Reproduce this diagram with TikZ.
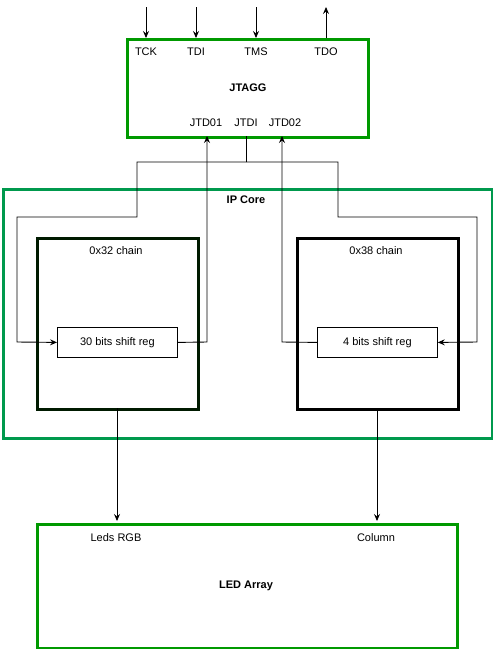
\documentclass[tikz,border=0pt]{standalone}
\usepackage{fontspec}
\setmainfont{Liberation Sans}
\usetikzlibrary{arrows.meta}
\definecolor{jgreen}{HTML}{009900}
\definecolor{ipgreen}{HTML}{00994D}
\definecolor{darkg}{HTML}{001A00}
\begin{document}
\begin{tikzpicture}[x=1pt,y=-1pt,
  every node/.style={font=\fontsize{11}{13}\selectfont, inner sep=0pt},
  bigbox/.style={draw, line width=3pt},
  regbox/.style={draw, line width=0.8pt, fill=white},
  wire/.style={line width=0.9pt},
  arr/.style={wire, -{Stealth[length=7pt,width=6pt,inset=2.5pt]}},
  lbl/.style={anchor=center},
  bold/.style={font=\fontsize{11}{13}\selectfont\bfseries}]
\useasboundingbox (0,0) rectangle (493,649);
% boxes
\node[bigbox, draw=ipgreen, minimum width=489pt, minimum height=249pt, anchor=north west] (ip) at (2,188) {};
\node[bigbox, draw=jgreen, minimum width=241pt, minimum height=98pt, anchor=north west] (jt) at (126,38) {};
\node[bigbox, draw=darkg, minimum width=161pt, minimum height=171pt, anchor=north west] (c32) at (36,237) {};
\node[bigbox, draw=black, minimum width=161pt, minimum height=171pt, anchor=north west] (c38) at (296,237) {};
\node[bigbox, draw=jgreen, minimum width=420pt, minimum height=124pt, anchor=north west] (led) at (36,523) {};
\node[regbox, minimum width=120pt, minimum height=30pt, anchor=north west] (r30) at (57,327) {30 bits shift reg};
\node[regbox, minimum width=120pt, minimum height=30pt, anchor=north west] (r4) at (317,327) {4 bits shift reg};
% labels
\node[lbl] (tck) at (146,52) {TCK};
\node[lbl] (tdi) at (196,52) {TDI};
\node[lbl] (tms) at (256,52) {TMS};
\node[lbl] (tdo) at (326,52) {TDO};
\node[lbl,bold] (jtlbl) at (248,88) {JTAGG};
\node[lbl] (jtd01) at (206,123) {JTD01};
\node[lbl] (jtdi) at (246,123) {JTDI};
\node[lbl] (jtd02) at (285,123) {JTD02};
\node[lbl,bold] (iplbl) at (246,200) {IP Core};
\node[lbl] (l32) at (116,251) {0x32 chain};
\node[lbl] (l38) at (376,251) {0x38 chain};
\node[lbl] (lrgb) at (116,538) {Leds RGB};
\node[lbl] (lcol) at (376,538) {Column};
\node[lbl,bold] (ledlbl) at (246,586) {LED Array};
% top pins
\coordinate (p1) at (146,7);
\coordinate (p2) at (196,7);
\coordinate (p3) at (256,7);
\coordinate (p4) at (326,7);
\draw[arr] (p1) -- (p1 |- jt.north);
\draw[arr] (p2) -- (p2 |- jt.north);
\draw[arr] (p3) -- (p3 |- jt.north);
\draw[arr] (p4 |- jt.north) -- (p4);
% JTDI split
\coordinate (s0) at (246,136);
\coordinate (s1) at (246,162);
\draw[wire] (s0) -- (s1);
\draw[arr] (s1) -- (137,162) -- (137,217) -- (17,217) -- (17,342) -- (r30.west);
\draw[arr] (s1) -- (338,162) -- (338,217) -- (477,217) -- (477,342) -- (r4.east);
% returns
\draw[arr] (r30.east) -- (207,342) -- (207,136);
\draw[arr] (r4.west) -- (282,342) -- (282,136);
% outputs
\draw[arr] (117,408) -- (117,521);
\draw[arr] (377,408) -- (377,521);
\end{tikzpicture}
\end{document}
